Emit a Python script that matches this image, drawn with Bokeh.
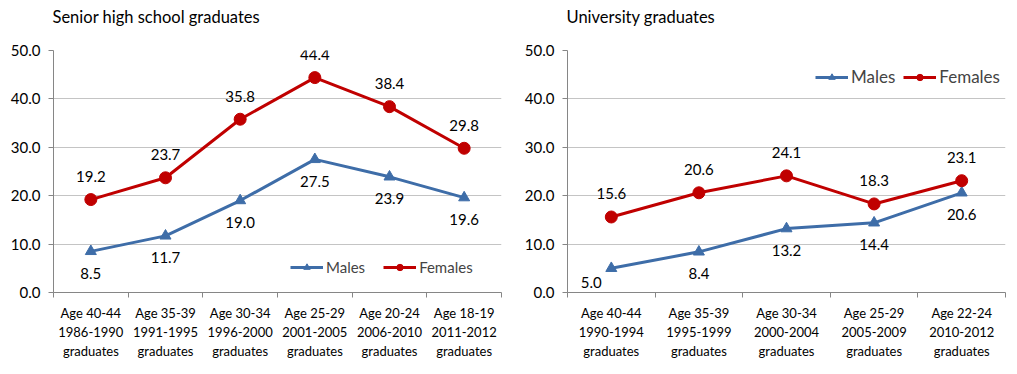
from bokeh.plotting import figure
from bokeh.layouts import row
from bokeh.models import Range1d, FixedTicker, ColumnDataSource, Legend, LegendItem, NumeralTickFormatter
from bokeh.core.properties import value
from bokeh.embed import file_html
from bokeh.resources import INLINE

FONT = "Lato"
BLUE = "#3E6DA8"
RED = "#C00000"

hs_categories = ["Age 40-44\n1986-1990\ngraduates", "Age 35-39\n1991-1995\ngraduates",
                 "Age 30-34\n1996-2000\ngraduates", "Age 25-29\n2001-2005\ngraduates",
                 "Age 20-24\n2006-2010\ngraduates", "Age 18-19\n2011-2012\ngraduates"]
hs_males = [8.5, 11.7, 19.0, 27.5, 23.9, 19.6]
hs_females = [19.2, 23.7, 35.8, 44.4, 38.4, 29.8]

uni_categories = ["Age 40-44\n1990-1994\ngraduates", "Age 35-39\n1995-1999\ngraduates",
                  "Age 30-34\n2000-2004\ngraduates", "Age 25-29\n2005-2009\ngraduates",
                  "Age 22-24\n2010-2012\ngraduates"]
uni_males = [5.0, 8.4, 13.2, 14.4, 20.6]
uni_females = [15.6, 20.6, 24.1, 18.3, 23.1]

y_ticks = [0, 10, 20, 30, 40, 50]

FRAME_H = 242


def make_chart(title, cats, males, females, width, bl, br, legend_loc, legend_font, legend_spacing):
    n = len(cats)
    xs = [i + 0.5 for i in range(n)]
    p = figure(width=width, height=366, output_backend="svg", toolbar_location=None,
               x_range=Range1d(0, n), y_range=Range1d(0, 50),
               min_border_left=bl, min_border_right=br, min_border_top=50, min_border_bottom=74)
    p.title.text = title + "\n "
    p.title.text_font = FONT
    p.title.text_font_size = "16.5px"
    p.title.text_font_style = "normal"
    p.title.text_color = "#000000"
    p.title.offset = -1
    p.title.standoff = 8
    p.outline_line_color = None
    p.background_fill_color = "white"

    p.xaxis.ticker = FixedTicker(ticks=xs, minor_ticks=list(range(n + 1)))
    p.xaxis.major_label_overrides = {x: c for x, c in zip(xs, cats)}
    p.xaxis.major_tick_line_color = None
    p.xaxis.minor_tick_in = 0
    p.xaxis.minor_tick_out = 5
    p.xaxis.minor_tick_line_color = "#868686"
    p.xaxis.axis_line_color = "#868686"
    p.xaxis.major_label_text_font = FONT
    p.xaxis.major_label_text_font_size = "13px"
    p.xaxis.major_label_text_color = "#000000"
    p.xaxis.major_label_standoff = 6

    p.yaxis.ticker = FixedTicker(ticks=y_ticks, minor_ticks=[])
    p.yaxis.formatter = NumeralTickFormatter(format="0.0")
    p.yaxis.axis_line_color = "#868686"
    p.yaxis.major_tick_line_color = "#868686"
    p.yaxis.major_tick_in = 0
    p.yaxis.major_tick_out = 5
    p.yaxis.major_label_text_font = FONT
    p.yaxis.major_label_text_font_size = "15px"
    p.yaxis.major_label_text_color = "#000000"
    p.yaxis.major_label_standoff = 8

    p.xgrid.grid_line_color = None
    p.ygrid.ticker = FixedTicker(ticks=y_ticks)
    p.ygrid.grid_line_color = "#C4C4C4"
    p.ygrid.grid_line_width = 1

    # label offsets (screen px): below for males, clamped near the x axis
    m_yoff, m_xoff = [], []
    for v in males:
        room = v / 50 * FRAME_H - 10
        if room < 22:
            m_yoff.append(room)
            m_xoff.append(-20)
        else:
            m_yoff.append(22)
            m_xoff.append(0)

    src = ColumnDataSource(dict(x=xs, m=males, f=females, myo=m_yoff, mxo=m_xoff,
                                ml=[f"{v:.1f}" for v in males], fl=[f"{v:.1f}" for v in females]))
    lm = p.line("x", "m", source=src, line_color=BLUE, line_width=3)
    sm = p.scatter("x", "m", source=src, marker="triangle", size=11, fill_color=BLUE, line_color=BLUE)
    lf = p.line("x", "f", source=src, line_color=RED, line_width=3)
    sf = p.scatter("x", "f", source=src, marker="circle", size=12, fill_color=RED, line_color=RED)

    p.text("x", "f", text="fl", source=src, text_align="center", text_baseline="middle",
           y_offset=-23, text_font=value(FONT), text_font_size="15px", text_color="#000000")
    p.text("x", "m", text="ml", source=src, text_align="center", text_baseline="middle",
           x_offset="mxo", y_offset="myo", text_font=value(FONT), text_font_size="15px",
           text_color="#000000")

    legend = Legend(items=[LegendItem(label="Males", renderers=[lm, sm]),
                           LegendItem(label="Females", renderers=[lf, sf])],
                    orientation="horizontal", location=legend_loc,
                    background_fill_alpha=0, border_line_color=None,
                    label_text_font=FONT, label_text_font_size=legend_font,
                    glyph_width=33, glyph_height=16, spacing=legend_spacing,
                    label_standoff=3, padding=0, margin=0)
    p.add_layout(legend)
    return p


p1 = make_chart("Senior high school graduates", hs_categories, hs_males, hs_females,
                513, 53, 12, (237, 16), "15px", 18)
p2 = make_chart("University graduates", uni_categories, uni_males, uni_females,
                496, 54, 4, (248, 205), "17px", 8)

layout = row(p1, p2)
open("out.html", "w").write(file_html(layout, INLINE))
